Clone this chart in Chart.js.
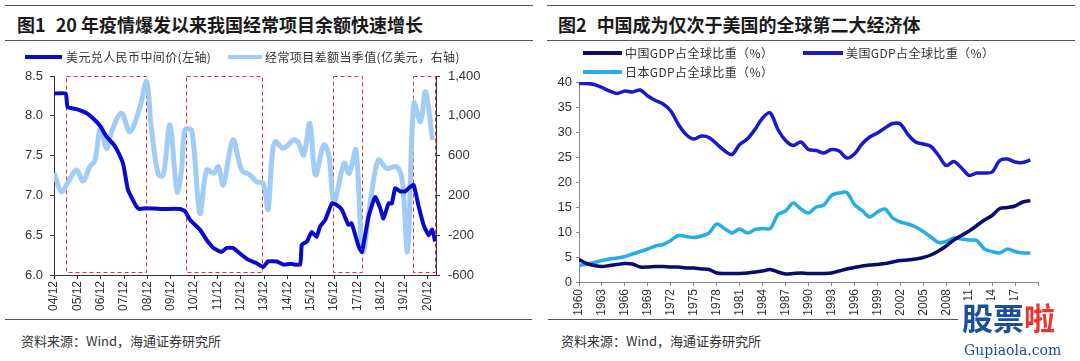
<!DOCTYPE html>
<html>
<head>
<meta charset="utf-8">
<script src="https://cdn.jsdelivr.net/npm/chart.js@4/dist/chart.umd.min.js"></script>
<style>
body{margin:0;background:#fff}
#page{position:relative;width:1080px;height:361px;overflow:hidden;background:#fff;font-family:'Noto Sans CJK SC',sans-serif;color:#222}
.rule{position:absolute;height:1px;background:#555}
.title{position:absolute;top:11px;font-size:18px;font-weight:bold;line-height:26px;white-space:nowrap;color:#1a1a1a}
.leg{position:absolute;font-size:12px;line-height:14px;color:#333;white-space:nowrap;letter-spacing:0.4px}
.swatch{position:absolute;height:4px}
canvas{position:absolute;top:0}
.foot{position:absolute;top:332px;font-size:13px;line-height:18px;color:#333;white-space:nowrap}
.wm{position:absolute;left:960px;top:300px;width:120px;padding-left:2px;font-size:31px;font-weight:bold;line-height:34px;color:#1b4f9c;white-space:nowrap;background:#fff}
.wm2{position:absolute;left:964px;top:342px;font-size:14px;line-height:16px;color:#1b4f9c;font-family:'DejaVu Serif',serif}
</style>
</head>
<body>
<div id="page">
	<div class="rule" style="left:5px;top:5px;width:528px"></div>
	<div class="rule" style="left:5px;top:40px;width:528px"></div>
	<div class="rule" style="left:547px;top:5px;width:528px"></div>
	<div class="rule" style="left:547px;top:40px;width:528px"></div>
	<div class="title" style="left:17px">图1<span style="margin-left:10px">20 年疫情爆发以来我国经常项目余额快速增长</span></div>
	<div class="title" style="left:558px">图2<span style="margin-left:10px">中国成为仅次于美国的全球第二大经济体</span></div>

	<canvas id="chart1" width="540" height="320" style="left:0"></canvas>
	<canvas id="chart2" width="540" height="320" style="left:540px"></canvas>

	<div class="swatch" style="left:25px;top:55px;width:37px;background:#0a0acd"></div>
	<div class="leg" style="left:66px;top:50px">美元兑人民币中间价(左轴)</div>
	<div class="swatch" style="left:228px;top:55px;width:34px;background:#a0ccf6"></div>
	<div class="leg" style="left:265px;top:50px">经常项目差额当季值(亿美元，右轴)</div>

	<div class="swatch" style="left:583px;top:51px;width:39px;background:#0b0b6e"></div>
	<div class="leg" style="left:625px;top:46px">中国GDP占全球比重（%）</div>
	<div class="swatch" style="left:803px;top:51px;width:40px;background:#1a1ac8"></div>
	<div class="leg" style="left:846px;top:46px">美国GDP占全球比重（%）</div>
	<div class="swatch" style="left:583px;top:70px;width:39px;background:#25aee6"></div>
	<div class="leg" style="left:625px;top:65px">日本GDP占全球比重（%）</div>

	<div class="rule" style="left:5px;top:319px;width:527px"></div>
	<div class="rule" style="left:548px;top:319px;width:410px"></div>
	<div class="foot" style="left:21px">资料来源：Wind，海通证券研究所</div>
	<div class="foot" style="left:561px">资料来源：Wind，海通证券研究所</div>

	<div class="wm">股票<span style="color:#e8362f">啦</span></div>
	<div class="wm2">Gupiaola.com</div>
</div>
<script>
"use strict"
// 图1: months counted from 2004/12
let tickLabels = ['04/12','05/12','06/12','07/12','08/12','09/12','10/12','11/12','12/12','13/12','14/12','15/12','16/12','17/12','18/12','19/12','20/12']
let cnyMonth = [0,6,7,12,17,20,23.5,27,30,32,35.5,38,40.6,42.4,44,47.6,55,64.7,67.4,70,75,78.5,82,86,88.8,92,95.6,100,104,107.6,110,114.5,118,121.4,126.5,127.4,130,132.5,135,136.8,139.4,142.9,145.4,148,151.4,153,156.6,158.3,161.7,165.1,167.7,169.4,172,173.7,175.4,178,180.6,182.3,184.9,187.5,190,192.6,194.4,196]
let cnyRate = [8.28,8.28,8.11,8.08,8.03,7.97,7.88,7.74,7.66,7.59,7.40,7.07,6.94,6.86,6.83,6.84,6.83,6.83,6.80,6.69,6.57,6.44,6.34,6.29,6.34,6.34,6.27,6.19,6.15,6.10,6.17,6.17,6.13,6.14,6.13,6.38,6.42,6.54,6.48,6.61,6.69,6.90,6.88,6.82,6.63,6.65,6.36,6.29,6.73,6.98,6.84,6.71,6.90,6.90,7.09,7.05,7.05,7.09,7.13,6.86,6.63,6.50,6.57,6.42]
let caMonth = [0,3.8,6.4,11.5,15,18.4,21,24,27,30,34.7,39,44,47.6,50,53.6,56.2,59.6,63.3,65.6,67.3,70.8,75,78.5,82,84.5,87,92,96.5,100.8,104.2,107.6,110,112,113.7,118,123.2,125.8,128.4,131.5,134.4,138.7,141.3,144,149.2,151.8,155.2,158.7,163,166.8,171,176.2,179,181.8,185,188.4,191,194.6]
let caValue = [425,237,305,455,345,488,550,890,673,860,1025,840,1075,1343,890,410,405,908,237,455,857,850,20,455,422,488,305,757,455,405,338,322,60,556,740,673,757,724,606,924,405,707,606,137,523,422,656,-366,187,556,472,488,355,-360,1130,941,1242,757]
let boxStart = [6.4,67.7,143.7,184.4]
let boxEnd = [47.9,107.5,158.8,196.4]

// 图2
let years = [1960,1961,1962,1963,1964,1965,1966,1967,1968,1969,1970,1971,1972,1973,1974,1975,1976,1977,1978,1979,1980,1981,1982,1983,1984,1985,1986,1987,1988,1989,1990,1991,1992,1993,1994,1995,1996,1997,1998,1999,2000,2001,2002,2003,2004,2005,2006,2007,2008,2009,2010,2011,2012,2013,2014,2015,2016,2017,2018,2019]
let yearTicks = [1960,1963,1966,1969,1972,1975,1978,1981,1984,1987,1990,1993,1996,1999,2002,2005,2008,2011,2014,2017,2020]
let chinaShare = [4.5,3.7,3.3,3.1,3.3,3.5,3.7,3.6,3.0,3.0,3.1,3.1,3.0,3.0,2.8,2.8,2.6,2.5,1.8,1.7,1.7,1.7,1.8,2.0,2.2,2.5,2.0,1.6,1.7,1.8,1.7,1.7,1.7,1.8,2.2,2.6,2.9,3.2,3.4,3.5,3.7,4.0,4.3,4.4,4.6,4.9,5.4,6.2,7.2,8.4,9.3,10.2,11.3,12.4,13.3,14.7,14.9,15.2,16.0,16.3]
let usShare = [39.7,39.7,39.5,38.9,38.2,37.7,38.2,38.0,38.4,37.2,36.3,35.6,34.2,31.5,29.5,28.6,29.2,28.9,27.6,26.3,25.5,27.5,28.6,30.5,32.8,33.8,30.5,28.3,27.3,28.0,26.5,26.3,25.8,26.5,26.2,24.8,25.6,27.6,29.0,29.8,30.8,31.7,31.6,29.5,28.0,27.6,27.1,25.3,23.3,24.1,22.8,21.3,21.8,21.8,22.0,24.3,24.6,24.0,23.9,24.4]
let japanShare = [3.3,3.6,3.9,4.3,4.6,4.8,5.1,5.6,6.1,6.6,7.2,7.5,8.3,9.3,9.1,8.9,9.2,9.8,11.6,10.7,9.8,10.6,9.8,10.5,10.7,10.7,13.5,14.2,15.8,14.6,13.8,15.0,15.4,17.3,17.8,17.9,15.5,14.3,13.0,14.0,14.6,12.8,12.0,11.6,11.0,10.1,9.0,7.9,8.1,8.8,8.6,8.4,8.3,6.6,6.1,5.8,6.6,6.1,5.8,5.8]

let tickFont = {family:"'Liberation Sans', Arial, sans-serif", size:13}
let xFont = {family:"'Liberation Sans', Arial, sans-serif", size:12}
let pts=(xs,ys)=>xs.map((x,i)=>({x:x,y:ys[i]}))

let boxPlugin = {
	id:'boxes',
	beforeDatasetsDraw:(chart)=>{
		let x=chart.scales.x, a=chart.chartArea, c=chart.ctx
		c.save()
		c.strokeStyle='#e0303a'
		c.lineWidth=1
		c.setLineDash([4,3])
		boxStart.forEach((s,i)=>{
			let l=Math.round(x.getPixelForValue(s))+0.5
			let r=Math.round(x.getPixelForValue(boxEnd[i]))-0.5
			c.strokeRect(l, a.top+0.5, r-l, a.bottom-a.top-3)
		})
		c.restore()
	}
}

let axisGrid=(col,len)=>({drawOnChartArea:false, drawTicks:true, tickLength:len, color:col})

new Chart(document.getElementById('chart1'),{
	type:'line',
	data:{
		datasets:[
			{data:pts(cnyMonth,cnyRate), yAxisID:'y', borderColor:'#0a0acd', borderWidth:4, pointRadius:0, tension:0.15, order:0},
			{data:pts(caMonth,caValue), yAxisID:'y1', borderColor:'#a0ccf6', borderWidth:5, pointRadius:0, tension:0.35, order:1}
		]
	},
	options:{
		responsive:false, animation:false, devicePixelRatio:1,
		layout:{padding:{top:76, left:0, right:0, bottom:0}},
		plugins:{legend:{display:false}, tooltip:{enabled:false}},
		scales:{
			x:{type:'linear', min:0, max:196.4,
				grid:axisGrid('#333',4), border:{color:'#333'},
				afterBuildTicks:s=>{s.ticks=tickLabels.map((t,i)=>({value:i*12}))},
				ticks:{autoSkip:false, maxRotation:90, minRotation:90, padding:2, font:xFont, color:'#333',
					callback:(v,i)=>tickLabels[i]},
				afterFit:s=>{s.height=45}},
			y:{position:'left', min:6, max:8.5,
				grid:axisGrid('#333',4), border:{color:'#333'},
				ticks:{stepSize:0.5, padding:7, font:tickFont, color:'#333', callback:v=>v.toFixed(1)},
				afterFit:s=>{s.width=54}},
			y1:{position:'right', min:-600, max:1400,
				grid:axisGrid('#333',4), border:{color:'#333'},
				ticks:{stepSize:400, padding:8, font:tickFont, color:'#333'},
				afterFit:s=>{s.width=104}}
		}
	},
	plugins:[boxPlugin]
})

new Chart(document.getElementById('chart2'),{
	type:'line',
	data:{
		datasets:[
			{data:pts(years,chinaShare), borderColor:'#0b0b6e', borderWidth:3.5, pointRadius:0, tension:0.3},
			{data:pts(years,usShare), borderColor:'#1a1ac8', borderWidth:3.5, pointRadius:0, tension:0.3},
			{data:pts(years,japanShare), borderColor:'#25aee6', borderWidth:3.5, pointRadius:0, tension:0.3}
		]
	},
	options:{
		responsive:false, animation:false, devicePixelRatio:1,
		layout:{padding:{top:82, left:0, right:42, bottom:0}},
		plugins:{legend:{display:false}, tooltip:{enabled:false}},
		scales:{
			x:{type:'linear', min:1960, max:2020,
				grid:axisGrid('#888',4), border:{color:'#888'},
				afterBuildTicks:s=>{s.ticks=yearTicks.map(y=>({value:y}))},
				ticks:{autoSkip:false, maxRotation:90, minRotation:90, padding:3, font:xFont, color:'#333',
					callback:v=>v<2020 ? String(v) : ''},
				afterFit:s=>{s.height=38}},
			y:{min:0, max:40,
				grid:axisGrid('#888',3), border:{color:'#888'},
				ticks:{stepSize:5, padding:4, font:tickFont, color:'#333'},
				afterFit:s=>{s.width=39}}
		}
	}
})
</script>
</body>
</html>
